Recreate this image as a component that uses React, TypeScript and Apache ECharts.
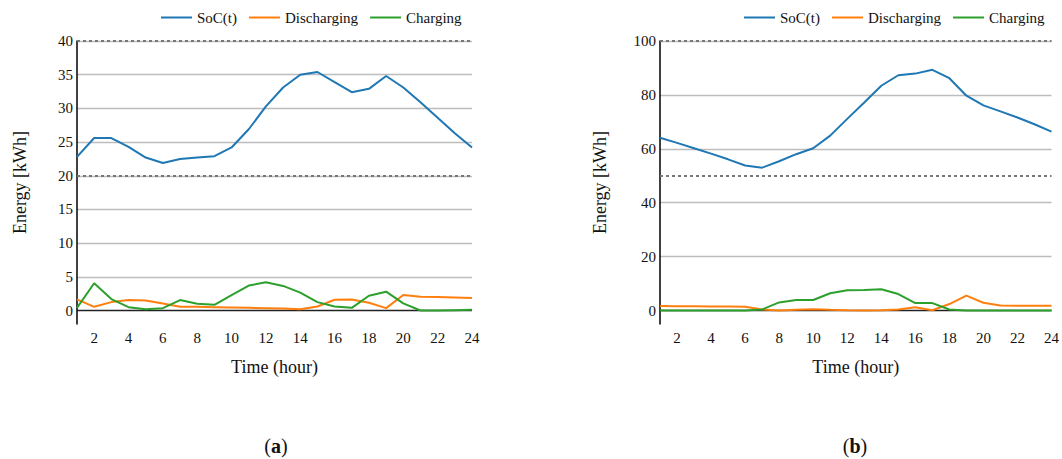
import React, { useEffect, useRef } from "react";
import * as echarts from "echarts";

const hours = ["1","2","3","4","5","6","7","8","9","10","11","12","13","14","15","16","17","18","19","20","21","22","23","24"];

// Panel (a)
const socA = [22.8, 25.6, 25.6, 24.3, 22.7, 21.9, 22.5, 22.7, 22.9, 24.2, 26.9, 30.3, 33.1, 35.0, 35.4, 33.9, 32.4, 32.9, 34.8, 33.1, 30.9, 28.6, 26.3, 24.2];
const disA = [1.65, 0.55, 1.25, 1.55, 1.5, 1.05, 0.55, 0.55, 0.5, 0.45, 0.4, 0.35, 0.3, 0.2, 0.6, 1.6, 1.65, 1.15, 0.35, 2.3, 2.05, 2.0, 1.95, 1.85];
const chgA = [0.4, 4.05, 1.7, 0.5, 0.2, 0.35, 1.55, 1.0, 0.85, 2.3, 3.7, 4.2, 3.65, 2.65, 1.25, 0.6, 0.4, 2.2, 2.8, 1.05, 0, 0, 0.05, 0.1];

// Panel (b)
const socB = [64.1, 62.2, 60.2, 58.2, 56.1, 53.8, 53.0, 55.4, 58.0, 60.2, 64.9, 71.1, 77.2, 83.4, 87.3, 87.9, 89.3, 86.2, 79.7, 76.1, 73.9, 71.6, 69.1, 66.4];
const disB = [1.65, 1.6, 1.55, 1.5, 1.45, 1.4, 0.4, 0, 0.25, 0.5, 0.25, 0.1, 0, 0.1, 0.4, 1.25, 0.1, 2.4, 5.5, 2.9, 1.9, 1.75, 1.75, 1.75];
const chgB = [0, 0, 0, 0, 0, 0, 0.4, 3.0, 3.9, 3.9, 6.4, 7.5, 7.6, 7.9, 6.1, 2.75, 2.75, 0.4, 0, 0, 0, 0, 0, 0];

const seriesNames = ["SoC(t)", "Discharging", "Charging"];
const colors = ["#1f77b4", "#ff7f0e", "#2ca02c"];
const limitsA = [20, 40];
const limitsB = [50, 100];
const yRangeA = [-2, 40];
const yRangeB = [-5, 100];
const xTitle = "Time (hour)";
const yTitle = "Energy [kWh]";
const captions = ["a", "b"];

const FONT = "Liberation Serif";

export default function App() {
  const ref = useRef<HTMLDivElement>(null);
  useEffect(() => {
    if (!ref.current) return;
    const chart = echarts.init(ref.current, null, { renderer: "svg" });
    const grids = [
      { left: 77, top: 41, width: 395, height: 283 },
      { left: 660, top: 41, width: 394, height: 283 },
    ];
    const xAxis = [0, 1].map((i) => ({
      type: "category",
      gridIndex: i,
      data: hours,
      boundaryGap: false,
      axisLine: { show: false },
      axisTick: { show: false },
      axisLabel: {
        interval: (idx: number) => idx % 2 === 1,
        margin: 6,
        color: "#111",
        fontFamily: FONT,
        fontSize: 15,
      },
      name: xTitle,
      nameLocation: "middle",
      nameGap: 34,
      nameTextStyle: { color: "#111", fontFamily: FONT, fontSize: 18 },
      splitLine: { show: false },
    }));
    const mkY = (i: number, range: number[], splitNumber: number, nLines: number, gap: number) => ({
      type: "value",
      gridIndex: i,
      min: range[0],
      max: range[1],
      splitNumber,
      axisLine: { show: true, onZero: false, lineStyle: { color: "#000", width: 1.5 } },
      axisTick: { show: false },
      axisLabel: {
        showMinLabel: false,
        margin: 4,
        color: "#111",
        fontFamily: FONT,
        fontSize: 15,
      },
      splitLine: {
        show: true,
        showMinLine: false,
        lineStyle: {
          color: ["#222"].concat(new Array(nLines - 1).fill("#bdbdbd")),
          width: 1.4,
        },
      },
      name: yTitle,
      nameLocation: "middle",
      nameRotate: 90,
      nameGap: gap,
      nameTextStyle: { color: "#111", fontFamily: FONT, fontSize: 18 },
    });
    const yAxis = [mkY(0, yRangeA, 8, 9, 48), mkY(1, yRangeB, 5, 6, 51)];
    const dashed = (vals: number[]) => ({
      silent: true,
      symbol: "none",
      label: { show: false },
      lineStyle: { color: "#777", type: [3, 3], width: 2 },
      data: vals.map((v) => ({ yAxis: v })),
    });
    const panel = (i: number, data: number[][], limits: number[]) =>
      data.map((d, k) => ({
        type: "line",
        name: seriesNames[k],
        xAxisIndex: i,
        yAxisIndex: i,
        data: d,
        showSymbol: false,
        symbol: "none",
        lineStyle: { color: colors[k], width: 2 },
        itemStyle: { color: colors[k] },
        markLine: k === 0 ? dashed(limits) : undefined,
      }));
    const series = [
      ...panel(0, [socA, disA, chgA], limitsA),
      ...panel(1, [socB, disB, chgB], limitsB),
    ];
    const legend = [156, 739].map((left) => ({
      left,
      top: 5,
      data: seriesNames,
      icon: "rect",
      itemWidth: 31,
      itemHeight: 2,
      itemGap: 12,
      textStyle: { color: "#111", fontFamily: FONT, fontSize: 15 },
    }));
    const caption = (txt: string, cx: number) => ({
      type: "text",
      x: cx,
      y: 446,
      style: {
        text: "{p|(}{b|" + txt + "}{p|)}",
        align: "center",
        verticalAlign: "middle",
        rich: {
          p: { fontFamily: FONT, fontSize: 20, fill: "#111" },
          b: { fontFamily: FONT, fontSize: 20, fontWeight: "bold", fill: "#111" },
        },
      },
    });
    chart.setOption({
      animation: false,
      textStyle: { fontFamily: FONT },
      grid: grids,
      xAxis,
      yAxis,
      legend,
      series,
      graphic: [caption(captions[0], 276), caption(captions[1], 855)],
    });
    return () => chart.dispose();
  }, []);
  return (
    <div
      ref={ref}
      style={{ position: "absolute", left: 0, top: 0, width: 1062, height: 459, background: "#fff" }}
    />
  );
}
